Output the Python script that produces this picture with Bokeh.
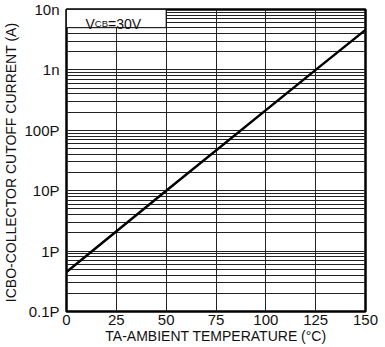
from bokeh.plotting import figure
from bokeh.models import FixedTicker, Label
from bokeh.embed import file_html
from bokeh.resources import INLINE

# ---- data ----
temps = [0, 50, 125, 150]
icbo = [0.45e-12, 1.0e-11, 1.0e-9, 4.6e-9]

x_ticks = [0, 25, 50, 75, 100, 125, 150]
y_ticks = [1e-13, 1e-12, 1e-11, 1e-10, 1e-9, 1e-8]
y_tick_labels = ["0.1P", "1P", "10P", "100P", "1n", "10n"]

x_title = "TA-AMBIENT TEMPERATURE (°C)"
y_title = "ICBO-COLLECTOR  CUTOFF CURRENT (A)"

W, H = 385, 347
FONT = "Liberation Sans"
FL, FB = 64, 311   # frame left / frame bottom (top-origin px)

p = figure(width=W, height=H, x_range=(0, 150), y_range=(1e-13, 1e-8),
           y_axis_type="log", output_backend="svg", toolbar_location=None,
           min_border_left=FL, min_border_right=20, min_border_top=9,
           min_border_bottom=H - FB)
p.outline_line_color = "black"
p.outline_line_width = 2.5

minor = [k * d for d in y_ticks[:-1] for k in range(2, 10)]
p.xaxis.ticker = FixedTicker(ticks=x_ticks)
p.yaxis.ticker = FixedTicker(ticks=y_ticks, minor_ticks=minor)
p.xgrid.ticker = FixedTicker(ticks=x_ticks)
p.ygrid.ticker = FixedTicker(ticks=y_ticks, minor_ticks=minor)
p.yaxis.major_label_overrides = {t: l for t, l in zip(y_ticks, y_tick_labels)}

p.xaxis.axis_label = x_title
p.yaxis.axis_label = y_title

for ax in (p.xaxis[0], p.yaxis[0]):
    ax.axis_line_color = None
    ax.major_tick_line_color = None
    ax.minor_tick_line_color = None
    ax.major_tick_out = 0
    ax.major_tick_in = 0
    ax.minor_tick_out = 0
    ax.minor_tick_in = 0
    ax.major_label_text_font = FONT
    ax.major_label_text_font_size = "15px"
    ax.major_label_text_color = "#111111"
    ax.axis_label_text_font = FONT
    ax.axis_label_text_font_style = "normal"
    ax.axis_label_text_color = "#111111"
p.xaxis.axis_label_text_font_size = "14px"
p.yaxis.axis_label_text_font_size = "14px"
p.xaxis.major_label_standoff = 3
p.yaxis.major_label_standoff = 7
p.xaxis.axis_label_standoff = 0
p.yaxis.axis_label_standoff = 2

for g in (p.xgrid[0], p.ygrid[0]):
    g.grid_line_color = "#222222"
    g.grid_line_width = 1
    g.grid_line_alpha = 1.0
p.ygrid.minor_grid_line_color = "#222222"
p.ygrid.minor_grid_line_width = 1

p.line(temps, icbo, line_color="black", line_width=2.5)

# condition box
p.quad(left=[0], right=[50], bottom=[5e-9], top=[1e-8], fill_color="white",
       line_color="black", line_width=1)

# Arial metrics (per 1000 em)
MET = {'C': 722, 'B': 667, 'V': 667, '=': 584, '3': 556, '0': 556}

def tw(s, size):
    return sum(MET.get(c, 600) for c in s) * size / 1000.0

def pieces(parts, x0, y0):
    off = 0.0
    for text, size in parts:
        p.add_layout(Label(x=x0 + off - FL, y=FB - y0, x_units="screen",
                           y_units="screen", text=text, text_font=FONT,
                           text_font_size=f"{size}px", text_color="#111111",
                           text_align="left", text_baseline="alphabetic"))
        off += tw(text, size)

pieces([("V", 14), ("CB", 9.5), ("=30V", 14)], 83, 23)

html = file_html(p, INLINE)
html = html.replace("</head>", "<style>html,body{margin:0;padding:0;}</style></head>", 1)
open("out.html", "w").write(html)
